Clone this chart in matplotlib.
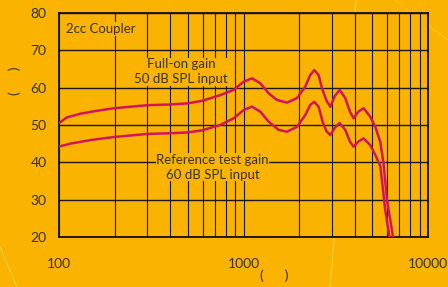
import matplotlib
matplotlib.use("Agg")
import matplotlib.pyplot as plt
from matplotlib.lines import Line2D

# frequency (Hz) / gain (dB)
full_freq = [100, 110, 130, 160, 200, 300, 400, 500, 600, 748, 884, 1001,
             1112, 1233, 1368, 1519, 1721, 1949, 2163, 2301, 2420, 2553,
             2663, 2820, 2953, 3130, 3319, 3562, 3780, 3951, 4200, 4478,
             4866, 5180, 5513, 5748, 5993, 6249, 6460]
full_gain = [50.5, 52.0, 53.0, 53.8, 54.5, 55.3, 55.5, 55.8, 56.5, 58.0,
             59.4, 61.6, 62.5, 61.2, 58.5, 56.7, 56.0, 57.2, 60.3, 63.4,
             64.7, 63.4, 59.8, 56.5, 54.9, 57.8, 59.4, 57.2, 53.5, 51.8,
             53.6, 54.5, 52.2, 49.5, 45.5, 39.5, 29.9, 24.5, 20.0]

ref_freq = [100, 115, 150, 200, 300, 400, 500, 600, 748, 884, 1001, 1112,
            1233, 1368, 1550, 1721, 1949, 2163, 2301, 2420, 2553, 2690,
            2820, 2953, 3130, 3319, 3562, 3780, 3951, 4200, 4478, 4866,
            5180, 5513, 5633, 5866, 6180]
ref_gain = [44.2, 45.0, 46.0, 46.8, 47.6, 47.8, 48.0, 48.6, 50.0, 51.8,
            54.0, 54.9, 53.6, 50.9, 48.7, 48.2, 49.5, 52.7, 55.4, 56.2,
            54.9, 50.7, 48.3, 47.3, 49.3, 50.5, 48.7, 45.5, 44.2, 45.6,
            46.4, 44.6, 42.0, 39.0, 35.0, 27.2, 20.0]

x_ticks = [100, 1000, 10000]
x_labels = ["100", "1000", "10000"]
y_ticks = [20, 30, 40, 50, 60, 70, 80]

BG = "#F9B300"
LINE = "#D4145A"
TXT = "#3a3320"

plt.rcParams["font.family"] = ["Lato", "DejaVu Sans"]

fig = plt.figure(figsize=(4.48, 2.87), dpi=100, facecolor=BG)
ax = fig.add_axes([59 / 448, 1 - 237 / 287, 369 / 448, 224 / 287])
ax.set_facecolor(BG)

# faint decorative swooshes in the background
fig.add_artist(Line2D([330 / 448, 342 / 448, 356 / 448], [0, 0.5, 1.0],
                      transform=fig.transFigure, color="#FFD23A", lw=0.8, zorder=0))
fig.add_artist(Line2D([0, 17 / 448], [1 - 247 / 287, 0],
                      transform=fig.transFigure, color="#FFD23A", lw=0.8, zorder=0))
fig.add_artist(Line2D([395 / 448, 448 / 448], [1.0, 1 - 40 / 287],
                      transform=fig.transFigure, color="#FFC21E", lw=0.8, zorder=0))

ax.set_xscale("log")
ax.set_xlim(100, 10000)
ax.set_ylim(20, 80)

ax.set_xticks(x_ticks)
ax.set_xticklabels(x_labels)
ax.set_yticks(y_ticks)
ax.set_xticks([m * d for d in (100, 1000) for m in range(2, 10)], minor=True)
ax.tick_params(axis="both", which="both", length=0, labelsize=10, colors=TXT)
ax.tick_params(axis="x", pad=15)
ax.tick_params(axis="y", pad=9)

ax.grid(True, which="both", axis="x", color="#1a1a1a", lw=0.8)
ax.grid(True, which="major", axis="y", color="#1a1a1a", lw=1.0)
for s in ax.spines.values():
    s.set_color("#111111")
    s.set_linewidth(1.3)

ax.plot(full_freq, full_gain, color=LINE, lw=1.8, zorder=3,
        solid_joinstyle="round")
ax.plot(ref_freq, ref_gain, color=LINE, lw=1.8, zorder=3,
        solid_joinstyle="round")

ax.text(0.02, 0.955, "2cc Coupler", transform=ax.transAxes, fontsize=9.5,
        color=TXT, va="top", ha="left",
        bbox=dict(facecolor=BG, edgecolor="none", pad=0.5))
ax.text(460, 64.2, "Full-on gain\n50 dB SPL input", fontsize=9.5, color=TXT,
        ha="center", va="center", linespacing=1.3, zorder=4,
        bbox=dict(facecolor=BG, edgecolor="none", pad=0.3))
ax.text(680, 38.7, "Reference test gain\n60 dB SPL input", fontsize=9.5,
        color=TXT, ha="center", va="center", linespacing=1.3, zorder=4,
        bbox=dict(facecolor=BG, edgecolor="none", pad=0.3))

fig.text(15 / 448, 1 - 81 / 287, "(      )", rotation=90, fontsize=10,
         color=TXT, ha="center", va="center")
fig.text(274 / 448, 1 - 276 / 287, "(      )", fontsize=10, color=TXT,
         ha="center", va="center")

fig.savefig("out.png", dpi=100, facecolor=BG)
